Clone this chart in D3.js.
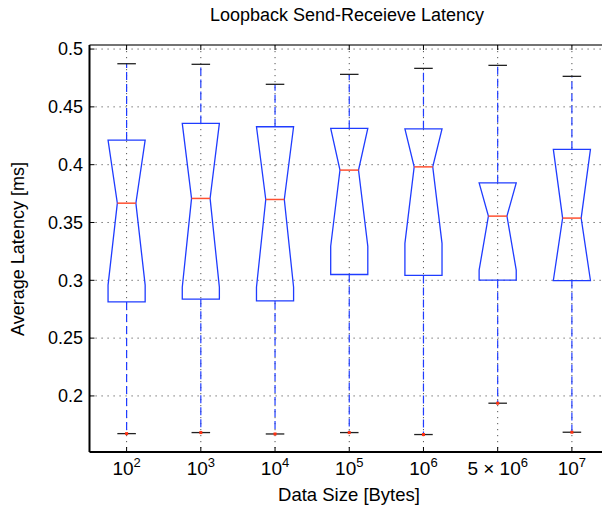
<!DOCTYPE html>
<html><head><meta charset="utf-8">
<script src="https://cdn.jsdelivr.net/npm/d3@7"></script>
<style>
html,body{margin:0;padding:0;background:#fff;}
svg text{font-family:"Liberation Sans",Arial,sans-serif;fill:#000;}
</style></head>
<body><svg id="c" width="602" height="512"></svg>
<script>
const categories = ["10^2","10^3","10^4","10^5","10^6","5x10^6","10^7"];
const whiskerHigh = [0.4873,0.4868,0.4695,0.4781,0.4833,0.4859,0.4764];
const q3 =          [0.4213,0.4357,0.4328,0.4314,0.4310,0.3843,0.4132];
const notchHigh =   [0.4376,0.4480,0.4460,0.4610,0.4640,0.4020,0.4140];
const median =      [0.3667,0.3708,0.3699,0.3953,0.3981,0.3555,0.3538];
const notchLow =    [0.2958,0.2940,0.2940,0.3295,0.3319,0.3088,0.2970];
const q1 =          [0.2813,0.2837,0.2822,0.3050,0.3042,0.3001,0.2998];
const whiskerLow =  [0.1674,0.1683,0.1671,0.1683,0.1666,0.1937,0.1686];
const yTicks = [0.2,0.25,0.3,0.35,0.4,0.45,0.5];
const yTickLabels = ["0.2","0.25","0.3","0.35","0.4","0.45","0.5"];
const xTickLabels = [["10","2"],["10","3"],["10","4"],["10","5"],["10","6"],["5 \u00d7 10","6"],["10","7"]];

const svg = d3.select("#c");
const L = 89.5, T = 45, R = 609, B = 452;
const x = d3.scaleLinear().domain([0.5, 7.5]).range([L, R]);
const y = d3.scaleLinear().domain([0.1515, 0.5035]).range([B, T]);
const idx = categories.map((d,i)=>i);

// grid
const g = svg.append("g");
g.selectAll("line.hg").data(yTicks).join("line")
  .attr("x1", L).attr("x2", R).attr("y1", d=>y(d)).attr("y2", d=>y(d))
  .attr("stroke", "#555").attr("stroke-width", 1).attr("stroke-dasharray", "1.2,4.8");
g.selectAll("line.vg").data(idx).join("line")
  .attr("x1", i=>x(i+1)).attr("x2", i=>x(i+1)).attr("y1", T).attr("y2", B)
  .attr("stroke", "#555").attr("stroke-width", 1).attr("stroke-dasharray", "1.2,4.8");

const hw = 0.25, nw = 0.125, cw = 0.125;
const blue = "#1f3cff";
const boxes = svg.append("g");
idx.forEach(i => {
  const c = i + 1;
  const nh = Math.min(notchHigh[i], q3[i]);
  const nl = Math.max(notchLow[i], q1[i]);
  boxes.append("line").attr("x1", x(c)).attr("x2", x(c)).attr("y1", y(q3[i])).attr("y2", y(whiskerHigh[i]))
    .attr("stroke", blue).attr("stroke-width", 1.2).attr("stroke-dasharray", "8,4");
  boxes.append("line").attr("x1", x(c)).attr("x2", x(c)).attr("y1", y(q1[i])).attr("y2", y(whiskerLow[i]))
    .attr("stroke", blue).attr("stroke-width", 1.2).attr("stroke-dasharray", "8,4");
  [whiskerHigh[i], whiskerLow[i]].forEach(v => {
    boxes.append("line").attr("x1", x(c - cw)).attr("x2", x(c + cw)).attr("y1", y(v)).attr("y2", y(v))
      .attr("stroke", "#222").attr("stroke-width", 1.3);
  });
  const pts = [
    [c - hw, q3[i]], [c - hw, nh], [c - nw, median[i]], [c - hw, nl], [c - hw, q1[i]],
    [c + hw, q1[i]], [c + hw, nl], [c + nw, median[i]], [c + hw, nh], [c + hw, q3[i]]
  ];
  boxes.append("path").attr("d", d3.line().x(p=>x(p[0])).y(p=>y(p[1]))(pts) + "Z")
    .attr("fill", "none").attr("stroke", blue).attr("stroke-width", 1.3);
  boxes.append("line").attr("x1", x(c - nw)).attr("x2", x(c + nw)).attr("y1", y(median[i])).attr("y2", y(median[i]))
    .attr("stroke", "#ff5030").attr("stroke-width", 1.5);
  boxes.append("rect").attr("x", x(c) - 1.5).attr("y", y(whiskerLow[i]) - 1.5).attr("width", 3).attr("height", 3)
    .attr("fill", "#ff3010");
});

// axes lines
svg.append("line").attr("x1", L).attr("x2", R).attr("y1", T).attr("y2", T).attr("stroke", "#444").attr("stroke-width", 1.5);
svg.append("line").attr("x1", L).attr("x2", R).attr("y1", B).attr("y2", B).attr("stroke", "#000").attr("stroke-width", 2);
svg.append("line").attr("x1", L).attr("x2", L).attr("y1", T).attr("y2", B).attr("stroke", "#000").attr("stroke-width", 2);

// y ticks
svg.selectAll("line.yt").data(yTicks).join("line")
  .attr("x1", L).attr("x2", L + 5).attr("y1", d=>y(d)).attr("y2", d=>y(d)).attr("stroke", "#000").attr("stroke-width", 1);
svg.selectAll("text.yl").data(yTicks).join("text")
  .attr("x", 83).attr("y", d=>y(d)).attr("dy", "0.35em").attr("text-anchor", "end")
  .attr("font-size", 18).text((d,i)=>yTickLabels[i]);

// x ticks
svg.selectAll("line.xtb").data(idx).join("line")
  .attr("x1", i=>x(i+1)).attr("x2", i=>x(i+1)).attr("y1", B).attr("y2", B - 5).attr("stroke", "#000").attr("stroke-width", 1);
svg.selectAll("line.xtt").data(idx).join("line")
  .attr("x1", i=>x(i+1)).attr("x2", i=>x(i+1)).attr("y1", T).attr("y2", T + 5).attr("stroke", "#000").attr("stroke-width", 1);
const xl = svg.selectAll("text.xl").data(idx).join("text")
  .attr("x", i=>x(i+1)).attr("y", 475).attr("text-anchor", "middle").attr("font-size", 19);
xl.append("tspan").text(i=>xTickLabels[i][0]);
xl.append("tspan").attr("dy", -8).attr("font-size", 13).text(i=>xTickLabels[i][1]);

// labels
svg.append("text").attr("x", 347).attr("y", 21).attr("text-anchor", "middle").attr("font-size", 18)
  .text("Loopback Send-Receieve Latency");
svg.append("text").attr("x", 349).attr("y", 501).attr("text-anchor", "middle").attr("font-size", 18.5)
  .text("Data Size [Bytes]");
svg.append("text").attr("transform", "translate(24,249) rotate(-90)").attr("text-anchor", "middle").attr("font-size", 18)
  .text("Average Latency [ms]");
</script></body></html>
